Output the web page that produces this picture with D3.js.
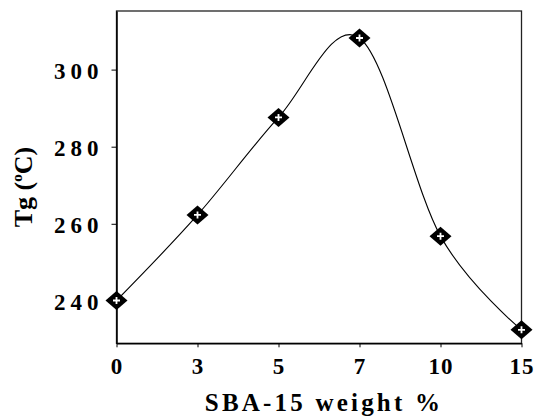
<!DOCTYPE html>
<html>
<head>
<meta charset="utf-8">
<script src="https://cdn.jsdelivr.net/npm/d3@7"></script>
<style>
  html, body { margin: 0; padding: 0; background: #fff; }
  svg { display: block; }
  .tick text { font-family: "Liberation Serif", "Times New Roman", serif; font-weight: bold; fill: #000; }
  .title { font-family: "Liberation Serif", "Times New Roman", serif; font-weight: bold; fill: #000; }
</style>
</head>
<body>
<div id="chart"></div>
<script>
// data
const loadings = ["0", "3", "5", "7", "10", "15"];   // SBA-15 weight %
const tgValues = [240.1, 262.3, 287.6, 308.2, 256.8, 232.5]; // Tg in °C
const yTicks = [240, 260, 280, 300];

const width = 535;
const height = 418;
const margin = { top: 11, right: 13.5, bottom: 74.7, left: 116.5 };

const svg = d3.select("#chart")
  .append("svg")
  .attr("width", width)
  .attr("height", height);

const x = d3.scalePoint()
  .domain(loadings)
  .range([margin.left, width - margin.right]);

const y = d3.scaleLinear()
  .domain([229, 315.2])
  .range([height - margin.bottom, margin.top]);

// plot frame
svg.append("rect")
  .attr("x", margin.left)
  .attr("y", margin.top)
  .attr("width", width - margin.left - margin.right)
  .attr("height", height - margin.top - margin.bottom)
  .attr("fill", "none")
  .attr("stroke", "#222")
  .attr("stroke-width", 1.3);

// y axis
const yAxis = svg.append("g")
  .attr("transform", `translate(${margin.left},0)`)
  .call(d3.axisLeft(y).tickValues(yTicks).tickSize(5).tickSizeOuter(0).tickPadding(8));
yAxis.select(".domain").attr("stroke", "#000").attr("stroke-width", 1.5);
yAxis.selectAll(".tick line").attr("stroke", "#000");
yAxis.selectAll(".tick text")
  .attr("font-size", 23)
  .attr("letter-spacing", 5)
  .attr("dy", "0.38em");

// x axis
const xAxis = svg.append("g")
  .attr("transform", `translate(0,${height - margin.bottom})`)
  .call(d3.axisBottom(x).tickSize(4).tickSizeOuter(0).tickPadding(10));
xAxis.select(".domain").attr("stroke", "#000").attr("stroke-width", 1.5);
xAxis.selectAll(".tick line").attr("stroke", "#000");
xAxis.selectAll(".tick text")
  .attr("font-size", 23)
  .attr("letter-spacing", 1);

// smoothed line like the spreadsheet one
const line = d3.line()
  .x((d, i) => x(loadings[i]))
  .y(d => y(d))
  .curve(d3.curveCardinal.tension(0));

svg.append("path")
  .datum(tgValues)
  .attr("d", line)
  .attr("fill", "none")
  .attr("stroke", "#000")
  .attr("stroke-width", 1.1);

// diamond markers with a white cross
const markers = svg.selectAll(".marker")
  .data(tgValues)
  .enter()
  .append("g")
  .attr("class", "marker")
  .attr("transform", (d, i) => `translate(${x(loadings[i])},${y(d)})`);

markers.append("path")
  .attr("d", "M-11,0L0,-9.5L11,0L0,9.5Z")
  .attr("fill", "#000");

markers.append("path")
  .attr("d", "M-3.5,0H3.5M0,-3.5V3.5")
  .attr("stroke", "#fff")
  .attr("stroke-width", 1.8);

// axis titles
svg.append("text")
  .attr("class", "title")
  .attr("x", 324)
  .attr("y", 411)
  .attr("text-anchor", "middle")
  .attr("font-size", 25)
  .attr("letter-spacing", 3.2)
  .text("SBA-15 weight %");

const yTitle = svg.append("text")
  .attr("class", "title")
  .attr("transform", "translate(32,187) rotate(-90)")
  .attr("text-anchor", "middle")
  .attr("font-size", 26);
yTitle.append("tspan").text("Tg (");
yTitle.append("tspan").attr("font-size", 15).attr("dy", -10).text("o");
yTitle.append("tspan").attr("dy", 10).text("C)");
</script>
</body>
</html>
